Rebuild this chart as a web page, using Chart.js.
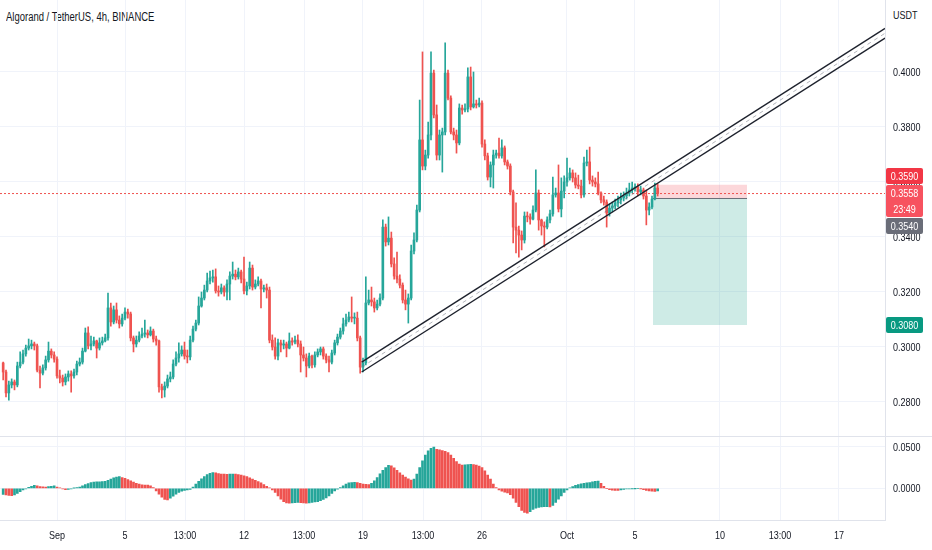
<!DOCTYPE html>
<html>
<head>
<meta charset="utf-8">
<title>Algorand / TetherUS, 4h, BINANCE</title>
<script src="https://cdn.jsdelivr.net/npm/chart.js@4.4.1/dist/chart.umd.min.js"></script>
<style>
  html, body { margin: 0; padding: 0; background: #fff; }
  body {
    width: 932px; height: 550px; position: relative; overflow: hidden;
    font-family: 'Liberation Sans', Arial, sans-serif;
    color: #131722;
  }
  #price { position: absolute; left: 0; top: 0; }
  #osc { position: absolute; left: 0; top: 437px; }
  .title { position: absolute; left: 6px; top: 10px; font-size: 12px; line-height: 14px; white-space: nowrap;
           transform: scaleX(0.79); transform-origin: left center; }
  .unit, .ylab { position: absolute; left: 893px; font-size: 11px; line-height: 12px; white-space: nowrap;
                 transform: translateY(-50%) scaleX(0.82); transform-origin: left center; }
  .xlab { position: absolute; font-size: 11px; line-height: 12px; white-space: nowrap;
          transform: translate(-50%, -50%) scaleX(0.82); }
  .sep { position: absolute; left: 0; top: 436px; width: 932px; height: 1px; background: #e0e3eb; }
  .tag { position: absolute; left: 886px; width: 37px; color: #fff; font-size: 11px;
         text-align: center; line-height: 16px; border-radius: 2px; }
  .tag div { transform: scaleX(0.82); }
</style>
</head>
<body>
<div class="title">Algorand / TetherUS, 4h, BINANCE</div>
<div class="unit" style="top:15px">USDT</div>
<canvas id="price" width="932" height="437"></canvas>
<div class="sep"></div>
<canvas id="osc" width="932" height="113"></canvas>
<script>
// 4h candles, Aug 28 20:00 -> Oct 6 08:00 (each candle opens where the previous closed)
const firstOpen = 0.2942;
const closes = [
  0.2909,0.2833,0.2862,0.2873,0.2862,0.2931,0.2945,0.2975,0.2996,0.3004,
  0.3011,0.3004,0.2916,0.2905,0.2924,0.2953,0.2985,0.2971,0.2956,0.2895,
  0.2887,0.2873,0.2891,0.2902,0.2895,0.2909,0.2938,0.2945,0.2985,0.3051,
  0.3004,0.3011,0.3022,0.2996,0.3015,0.3022,0.3033,0.3142,0.3091,0.3135,
  0.3098,0.3084,0.3105,0.3127,0.3120,0.3033,0.3011,0.3025,0.3040,0.3047,
  0.3051,0.3044,0.3058,0.3029,0.3022,0.2855,0.2844,0.2858,0.2884,0.2891,
  0.2938,0.2960,0.2975,0.2989,0.2967,0.2964,0.3025,0.3065,0.3087,0.3149,
  0.3178,0.3207,0.3240,0.3251,0.3255,0.3204,0.3200,0.3215,0.3200,0.3229,
  0.3258,0.3265,0.3255,0.3273,0.3247,0.3204,0.3222,0.3287,0.3218,0.3229,
  0.3240,0.3211,0.3215,0.3207,0.3025,0.3000,0.2967,0.3015,0.3007,0.3011,
  0.2996,0.3022,0.3018,0.3025,0.3011,0.2971,0.2960,0.2931,0.2967,0.2935,
  0.2971,0.2982,0.2993,0.2967,0.2953,0.2945,0.2978,0.3015,0.3036,0.3058,
  0.3084,0.3098,0.3109,0.3105,0.3105,0.3033,0.2927,0.2942,0.3160,0.3171,
  0.3164,0.3142,0.3156,0.3178,0.3436,0.3382,0.3396,0.3302,0.3258,0.3247,
  0.3225,0.3171,0.3156,0.3178,0.3349,0.3389,0.3498,0.3753,0.3658,0.3698,
  0.3771,0.3996,0.3844,0.3698,0.3771,0.3782,0.3996,0.3905,0.3782,0.3771,
  0.3742,0.3869,0.3862,0.3866,0.3982,0.3873,0.3884,0.3880,0.3887,0.3738,
  0.3695,0.3618,0.3662,0.3698,0.3705,0.3695,0.3724,0.3673,0.3658,0.3564,
  0.3436,0.3425,0.3407,0.3389,0.3476,0.3473,0.3465,0.3498,0.3560,0.3462,
  0.3440,0.3436,0.3462,0.3484,0.3553,0.3560,0.3502,0.3567,0.3600,0.3615,
  0.3633,0.3615,0.3589,0.3585,0.3553,0.3669,0.3673,0.3607,0.3600,0.3593,
  0.3560,0.3535,0.3527,0.3487,0.3505,0.3513,0.3524,0.3535,0.3542,0.3549,
  0.3560,0.3571,0.3578,0.3582,0.3564,0.3571,0.3549,0.3498,0.3509,0.3538,
  0.3578,0.3558
];
const highs = [
  0.2945,0.2916,0.2876,0.2884,0.2880,0.2945,0.2982,0.2989,0.3007,0.3029,
  0.3025,0.3018,0.3011,0.2931,0.2935,0.2967,0.3018,0.2993,0.2982,0.2964,
  0.2916,0.2898,0.2902,0.2913,0.2913,0.2920,0.2949,0.2960,0.2996,0.3069,
  0.3073,0.3040,0.3036,0.3025,0.3033,0.3036,0.3047,0.3196,0.3160,0.3149,
  0.3160,0.3113,0.3120,0.3142,0.3138,0.3127,0.3040,0.3040,0.3055,0.3069,
  0.3098,0.3062,0.3073,0.3065,0.3040,0.3025,0.2865,0.2873,0.2898,0.2909,
  0.2953,0.2982,0.3015,0.3004,0.3018,0.2989,0.3040,0.3076,0.3098,0.3182,
  0.3200,0.3225,0.3269,0.3276,0.3280,0.3284,0.3222,0.3229,0.3222,0.3244,
  0.3273,0.3309,0.3280,0.3287,0.3280,0.3327,0.3236,0.3309,0.3298,0.3244,
  0.3255,0.3247,0.3225,0.3229,0.3218,0.3044,0.3033,0.3029,0.3025,0.3025,
  0.3018,0.3051,0.3033,0.3040,0.3044,0.3022,0.3000,0.2975,0.2978,0.2971,
  0.2982,0.2993,0.3000,0.3000,0.2975,0.2967,0.2989,0.3025,0.3047,0.3069,
  0.3105,0.3120,0.3127,0.3182,0.3124,0.3127,0.3040,0.2960,0.3255,0.3207,
  0.3218,0.3178,0.3171,0.3193,0.3462,0.3447,0.3473,0.3418,0.3324,0.3345,
  0.3262,0.3233,0.3207,0.3193,0.3371,0.3415,0.3516,0.3898,0.4073,0.3716,
  0.3818,0.4073,0.4007,0.3880,0.3789,0.3796,0.4106,0.4007,0.3913,0.3796,
  0.3789,0.3884,0.3880,0.3884,0.4015,0.4018,0.4000,0.3898,0.3905,0.3895,
  0.3753,0.3705,0.3673,0.3716,0.3716,0.3760,0.3753,0.3731,0.3680,0.3666,
  0.3571,0.3524,0.3440,0.3422,0.3491,0.3491,0.3484,0.3513,0.3644,0.3571,
  0.3465,0.3455,0.3473,0.3498,0.3618,0.3578,0.3662,0.3615,0.3622,0.3687,
  0.3651,0.3644,0.3633,0.3625,0.3607,0.3691,0.3716,0.3727,0.3622,0.3615,
  0.3636,0.3564,0.3549,0.3535,0.3520,0.3527,0.3538,0.3549,0.3560,0.3564,
  0.3578,0.3596,0.3600,0.3593,0.3593,0.3585,0.3578,0.3571,0.3524,0.3549,
  0.3596,0.3593
];
const lows = [
  0.2880,0.2818,0.2807,0.2851,0.2844,0.2855,0.2924,0.2938,0.2967,0.2989,
  0.2993,0.2989,0.2909,0.2851,0.2898,0.2916,0.2945,0.2960,0.2945,0.2887,
  0.2869,0.2858,0.2862,0.2876,0.2836,0.2887,0.2898,0.2931,0.2938,0.2982,
  0.2993,0.2989,0.3004,0.2960,0.2989,0.3007,0.3018,0.3025,0.3076,0.3084,
  0.3087,0.3069,0.3076,0.3098,0.3105,0.3022,0.2982,0.3000,0.3018,0.3033,
  0.3036,0.3033,0.3040,0.3018,0.3007,0.2836,0.2815,0.2818,0.2851,0.2873,
  0.2884,0.2931,0.2945,0.2967,0.2956,0.2942,0.2953,0.3018,0.3058,0.3080,
  0.3145,0.3171,0.3200,0.3229,0.3236,0.3196,0.3185,0.3193,0.3185,0.3171,
  0.3171,0.3247,0.3244,0.3247,0.3233,0.3193,0.3189,0.3211,0.3207,0.3211,
  0.3222,0.3142,0.3200,0.3178,0.3015,0.2989,0.2956,0.2953,0.2982,0.2993,
  0.2964,0.2993,0.3007,0.3011,0.3000,0.2909,0.2949,0.2891,0.2924,0.2924,
  0.2927,0.2964,0.2971,0.2956,0.2942,0.2909,0.2938,0.2971,0.3007,0.3029,
  0.3047,0.3076,0.3091,0.3091,0.3084,0.3022,0.2905,0.2909,0.2935,0.3153,
  0.3149,0.3127,0.3135,0.3149,0.3171,0.3367,0.3371,0.3291,0.3247,0.3233,
  0.3215,0.3160,0.3135,0.3087,0.3171,0.3338,0.3382,0.3491,0.3644,0.3644,
  0.3687,0.3753,0.3833,0.3680,0.3680,0.3636,0.3771,0.3898,0.3775,0.3753,
  0.3705,0.3735,0.3847,0.3855,0.3855,0.3862,0.3869,0.3869,0.3873,0.3727,
  0.3680,0.3607,0.3582,0.3578,0.3687,0.3687,0.3687,0.3662,0.3647,0.3553,
  0.3378,0.3342,0.3327,0.3353,0.3378,0.3455,0.3447,0.3462,0.3491,0.3425,
  0.3407,0.3364,0.3429,0.3451,0.3476,0.3545,0.3491,0.3473,0.3542,0.3585,
  0.3607,0.3600,0.3578,0.3575,0.3542,0.3545,0.3658,0.3593,0.3585,0.3582,
  0.3553,0.3524,0.3516,0.3436,0.3476,0.3491,0.3502,0.3509,0.3520,0.3531,
  0.3538,0.3549,0.3560,0.3567,0.3549,0.3553,0.3538,0.3444,0.3480,0.3502,
  0.3535,0.3549
];
// oscillator histogram, one bar per candle
const aoValues = [
  -0.0072,-0.0078,-0.0085,-0.0088,-0.0080,-0.0060,-0.0040,-0.0020,-0.0005,0.0012,
  0.0025,0.0035,0.0030,0.0022,0.0018,0.0015,0.0020,0.0025,0.0030,0.0015,
  0.0005,-0.0008,-0.0015,-0.0012,-0.0005,0.0002,0.0008,0.0015,0.0030,0.0045,
  0.0058,0.0068,0.0075,0.0078,0.0078,0.0080,0.0085,0.0095,0.0110,0.0125,
  0.0135,0.0140,0.0130,0.0120,0.0105,0.0090,0.0075,0.0060,0.0050,0.0042,
  0.0040,0.0038,0.0030,0.0010,-0.0030,-0.0070,-0.0105,-0.0135,-0.0140,-0.0120,
  -0.0095,-0.0070,-0.0050,-0.0035,-0.0025,-0.0018,-0.0012,0.0015,0.0050,0.0085,
  0.0115,0.0140,0.0165,0.0180,0.0188,0.0185,0.0178,0.0172,0.0170,0.0168,
  0.0170,0.0172,0.0170,0.0165,0.0160,0.0150,0.0140,0.0125,0.0110,0.0095,
  0.0080,0.0065,0.0045,0.0025,0.0005,-0.0020,-0.0050,-0.0090,-0.0130,-0.0160,
  -0.0175,-0.0180,-0.0175,-0.0172,-0.0170,-0.0172,-0.0175,-0.0178,-0.0176,-0.0170,
  -0.0165,-0.0160,-0.0150,-0.0135,-0.0115,-0.0090,-0.0060,-0.0030,-0.0010,0.0010,
  0.0030,0.0050,0.0065,0.0070,0.0072,0.0068,0.0060,0.0050,0.0048,0.0045,
  0.0060,0.0090,0.0130,0.0175,0.0215,0.0250,0.0275,0.0270,0.0245,0.0215,
  0.0185,0.0160,0.0135,0.0115,0.0100,0.0110,0.0170,0.0250,0.0330,0.0400,
  0.0450,0.0480,0.0496,0.0470,0.0462,0.0455,0.0445,0.0430,0.0400,0.0360,
  0.0320,0.0290,0.0280,0.0282,0.0285,0.0287,0.0286,0.0280,0.0268,0.0250,
  0.0210,0.0160,0.0110,0.0050,0.0010,-0.0020,-0.0035,-0.0045,-0.0055,-0.0075,
  -0.0120,-0.0170,-0.0220,-0.0265,-0.0290,-0.0300,-0.0280,-0.0255,-0.0240,-0.0230,
  -0.0225,-0.0222,-0.0220,-0.0225,-0.0205,-0.0170,-0.0130,-0.0090,-0.0050,-0.0020,
  0.0005,0.0020,0.0035,0.0045,0.0055,0.0060,0.0065,0.0070,0.0078,0.0085,
  0.0088,0.0060,0.0025,0.0000,-0.0015,-0.0022,-0.0025,-0.0026,-0.0018,-0.0012,
  -0.0008,-0.0005,-0.0003,-0.0001,0.0000,-0.0002,-0.0015,-0.0025,-0.0032,-0.0035,
  -0.0036,-0.0030
];

// time axis in days counted from Sep 1 00:00
const firstCandleDay = -3 - 4 / 24;   // Aug 28 20:00
const candleStep = 4 / 24;            // 4h
const tickDays = [0, 4, 7.54, 11, 14.54, 18, 21.54, 25, 30, 34, 39, 42.54, 46];
const tickLabels = ['Sep', '5', '13:00', '12', '13:00', '19', '13:00', '26', 'Oct', '5', '10', '13:00', '17'];
const priceTicks = [0.28, 0.30, 0.32, 0.34, 0.36, 0.38, 0.40];
const aoTicks = [0, 0.05];

// drawings on the chart
const lastPrice = 0.3558;
const countdown = '23:49';
const stopPrice = 0.3590;
const entryPrice = 0.3540;
const targetPrice = 0.3080;
const positionDays = [35.06, 40.59];
const channelDays = [17.92, 48.71];
const channelUpper = [0.2945, 0.4159];
const channelLower = [0.2909, 0.4123];

// visible window
const xMin = -3.353, xMax = 48.706;
const priceMin = 0.26727, priceMax = 0.42618;
const aoMin = -0.0387, aoMax = 0.0617;

const upColor = '#26a69a';
const downColor = '#ef5350';
const gridColor = '#f0f3fa';

const candleDays = closes.map((_, i) => firstCandleDay + i * candleStep);
const opens = closes.map((c, i) => (i === 0 ? firstOpen : closes[i - 1]));
const candleColors = closes.map((c, i) => (c >= opens[i] ? upColor : downColor));
const bodyData = closes.map((c, i) => ({ x: candleDays[i], y: [opens[i], c] }));
const wickData = closes.map((c, i) => ({
  x: candleDays[i],
  y: [Math.min(lows[i], opens[i], c), Math.max(highs[i], opens[i], c)],
}));
const aoData = aoValues.map((v, i) => ({ x: candleDays[i], y: v }));
const aoColors = aoValues.map((v, i) => (i > 0 && v < aoValues[i - 1] ? downColor : upColor));

const flatLine = (days, values, extra) => Object.assign({
  type: 'line',
  data: days.map((d, i) => ({ x: d, y: values[i] })),
  pointRadius: 0,
  borderWidth: 1,
  tension: 0,
}, extra);

// keep Chart.js from adding room for tick labels at the edges
const noPad = (s) => { s.paddingTop = 0; s.paddingBottom = 0; s.paddingLeft = 0; s.paddingRight = 0; };

// tick labels are placed as page text further down (narrow type like the original)
const timeAxis = (showBorder) => ({
  type: 'linear',
  min: xMin,
  max: xMax,
  offset: false,
  bounds: 'data',
  afterBuildTicks: (s) => { s.ticks = tickDays.map((v) => ({ value: v })); },
  ticks: { display: false, autoSkip: false },
  grid: { color: gridColor, drawTicks: false, offset: false },
  border: { display: showBorder, color: '#e0e3eb' },
  afterFit: (s) => { s.height = showBorder ? 29.5 : 0; noPad(s); },
});

const valueAxis = (min, max, ticks) => ({
  position: 'right',
  min,
  max,
  beginAtZero: false,
  afterBuildTicks: (s) => { s.ticks = ticks.map((v) => ({ value: v })); },
  ticks: { display: false },
  grid: { color: gridColor, drawTicks: false },
  border: { color: '#e0e3eb' },
  afterFit: (s) => { s.width = 47; noPad(s); },
});

const baseOptions = {
  responsive: false,
  animation: false,
  events: [],
  layout: { padding: 0 },
  plugins: { legend: { display: false }, tooltip: { enabled: false } },
};

const priceChart = new Chart(document.getElementById('price'), {
  type: 'bar',
  data: {
    datasets: [
      flatLine(positionDays, [stopPrice, stopPrice], {
        fill: { value: entryPrice }, backgroundColor: 'rgba(242,54,69,0.2)', borderWidth: 0, order: 10,
      }),
      flatLine(positionDays, [entryPrice, entryPrice], {
        fill: { value: targetPrice }, backgroundColor: 'rgba(8,153,129,0.2)', borderColor: '#6a6d78', order: 9,
      }),
      flatLine([xMin, xMax], [lastPrice, lastPrice], {
        borderColor: downColor, borderDash: [2, 2], order: 8,
      }),
      {
        label: 'wicks', data: wickData, backgroundColor: candleColors,
        barThickness: 1, grouped: false, minBarLength: 1, order: 5,
      },
      {
        label: 'bodies', data: bodyData, backgroundColor: candleColors,
        barThickness: 2, grouped: false, minBarLength: 1, order: 4,
      },
      flatLine(channelDays, channelDays.map((_, i) => (channelUpper[i] + channelLower[i]) / 2), {
        borderColor: 'rgba(120,123,134,0.55)', borderDash: [4, 4], order: 2,
      }),
      flatLine(channelDays, channelUpper, { borderColor: '#1e222d', borderWidth: 1.4, order: 1 }),
      flatLine(channelDays, channelLower, { borderColor: '#1e222d', borderWidth: 1.4, order: 1 }),
    ],
  },
  options: Object.assign({}, baseOptions, {
    scales: { x: timeAxis(false), y: valueAxis(priceMin, priceMax, priceTicks) },
  }),
});

const oscChart = new Chart(document.getElementById('osc'), {
  type: 'bar',
  data: {
    datasets: [{
      label: 'AO', data: aoData, backgroundColor: aoColors,
      barThickness: 2, grouped: false, minBarLength: 0,
    }],
  },
  options: Object.assign({}, baseOptions, {
    scales: { x: timeAxis(true), y: valueAxis(aoMin, aoMax, aoTicks) },
  }),
});

const addText = (cls, text, left, top) => {
  const el = document.createElement('div');
  el.className = cls;
  el.textContent = text;
  el.style.left = left + 'px';
  el.style.top = top + 'px';
  document.body.appendChild(el);
};

// axis labels, positioned through each chart's scales
const paneTop = { price: 0, osc: 437 };
priceChart.scales.y.ticks.forEach((t) =>
  addText('ylab', t.value.toFixed(4), 893, paneTop.price + priceChart.scales.y.getPixelForValue(t.value)));
oscChart.scales.y.ticks.forEach((t) =>
  addText('ylab', t.value.toFixed(4), 893, paneTop.osc + oscChart.scales.y.getPixelForValue(t.value)));
const labelY = paneTop.osc + oscChart.chartArea.bottom + 14.5;
oscChart.scales.x.ticks.forEach((t, i) =>
  addText('xlab', tickLabels[i], oscChart.scales.x.getPixelForValue(t.value), labelY));

// price tags on the right axis
const py = (v) => priceChart.scales.y.getPixelForValue(v);
const addTag = (lines, top, color) => {
  const el = document.createElement('div');
  el.className = 'tag';
  el.style.top = top + 'px';
  el.style.background = color;
  lines.forEach((t) => {
    const row = document.createElement('div');
    row.textContent = t;
    el.appendChild(row);
  });
  document.body.appendChild(el);
};
const lastTop = py(lastPrice) - 8.5;
addTag([lastPrice.toFixed(4), countdown], lastTop, '#f7525f');
addTag([stopPrice.toFixed(4)], lastTop - 17, '#f23645');
addTag([entryPrice.toFixed(4)], lastTop + 33, '#6a6d78');
addTag([targetPrice.toFixed(4)], py(targetPrice) - 8, '#089981');
</script>
</body>
</html>
